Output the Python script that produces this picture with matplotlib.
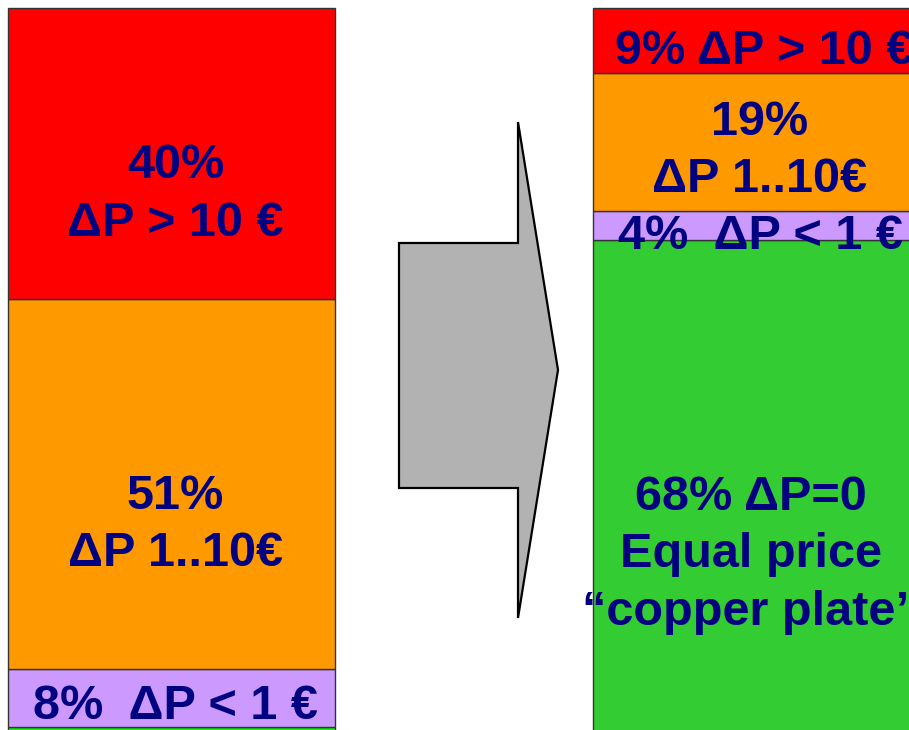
import matplotlib
matplotlib.use("Agg")
import matplotlib.pyplot as plt
from matplotlib.patches import Polygon

# share of hours by price difference, stacked bottom to top (%)
bands = ["ΔP=0", "ΔP < 1 €", "ΔP 1..10€", "ΔP > 10 €"]
before = [1, 8, 51, 40]
after = [68, 4, 19, 9]
colors_before = ["#00FF00", "#CC99FF", "#FF9900", "#FF0000"]
colors_after = ["#33CC33", "#CC99FF", "#FF9900", "#FF0000"]
labels_before = ["", "8%  ΔP < 1 €", "51%\nΔP 1..10€", "40%\nΔP > 10 €"]
labels_after = ["68% ΔP=0\nEqual price\n“copper plate”", "4%  ΔP < 1 €",
                "19%\nΔP 1..10€", "9% ΔP > 10 €"]

W, H = 909, 730
PX = 7.263  # pixels per percent
TOP = 8     # pixel row of the 100% line


def ypix(py):
    # pixel row -> data value
    return 100 - (py - TOP) / PX


fig = plt.figure(figsize=(W / 100, H / 100), dpi=100)
ax = fig.add_axes([0, 0, 1, 1])
ax.set_xlim(0, W)
ax.set_ylim(ypix(H), ypix(0))
ax.axis("off")

font = dict(family=["Liberation Sans", "DejaVu Sans"], weight="bold",
            size=35, color="#000080", ha="center", va="center",
            linespacing=1.36)

# label shift from segment middle (percent units) and in x (pixels)
shift_before = [0, -1.2, -5.7, -5.7]
shift_after = [-9.3, -1.5, -1.2, -1.5]
dx_before = [0, 4, 4, 4]
dx_after = [-5, 4, 4, 8]

for xc, vals, cols, labs, shifts, dxs in [
    (171.5, before, colors_before, labels_before, shift_before, dx_before),
    (756, after, colors_after, labels_after, shift_after, dx_after),
]:
    bottom = 0
    for v, c, lab, s, dx in zip(vals, cols, labs, shifts, dxs):
        ax.bar(xc, v, bottom=bottom, width=327, color=c,
               edgecolor="#333333", linewidth=1)
        if lab:
            ax.text(xc + dx, bottom + v / 2 + s, lab, **font)
        bottom += v

# block arrow between the two bars
arrow_px = [(399, 243), (518, 243), (518, 122), (558, 370),
            (518, 618), (518, 488), (399, 488)]
ax.add_patch(Polygon([(x, ypix(y)) for x, y in arrow_px], closed=True,
                     facecolor="#B2B2B2", edgecolor="black", linewidth=1.6,
                     joinstyle="miter"))

fig.savefig("out.png", dpi=100, facecolor="white")
